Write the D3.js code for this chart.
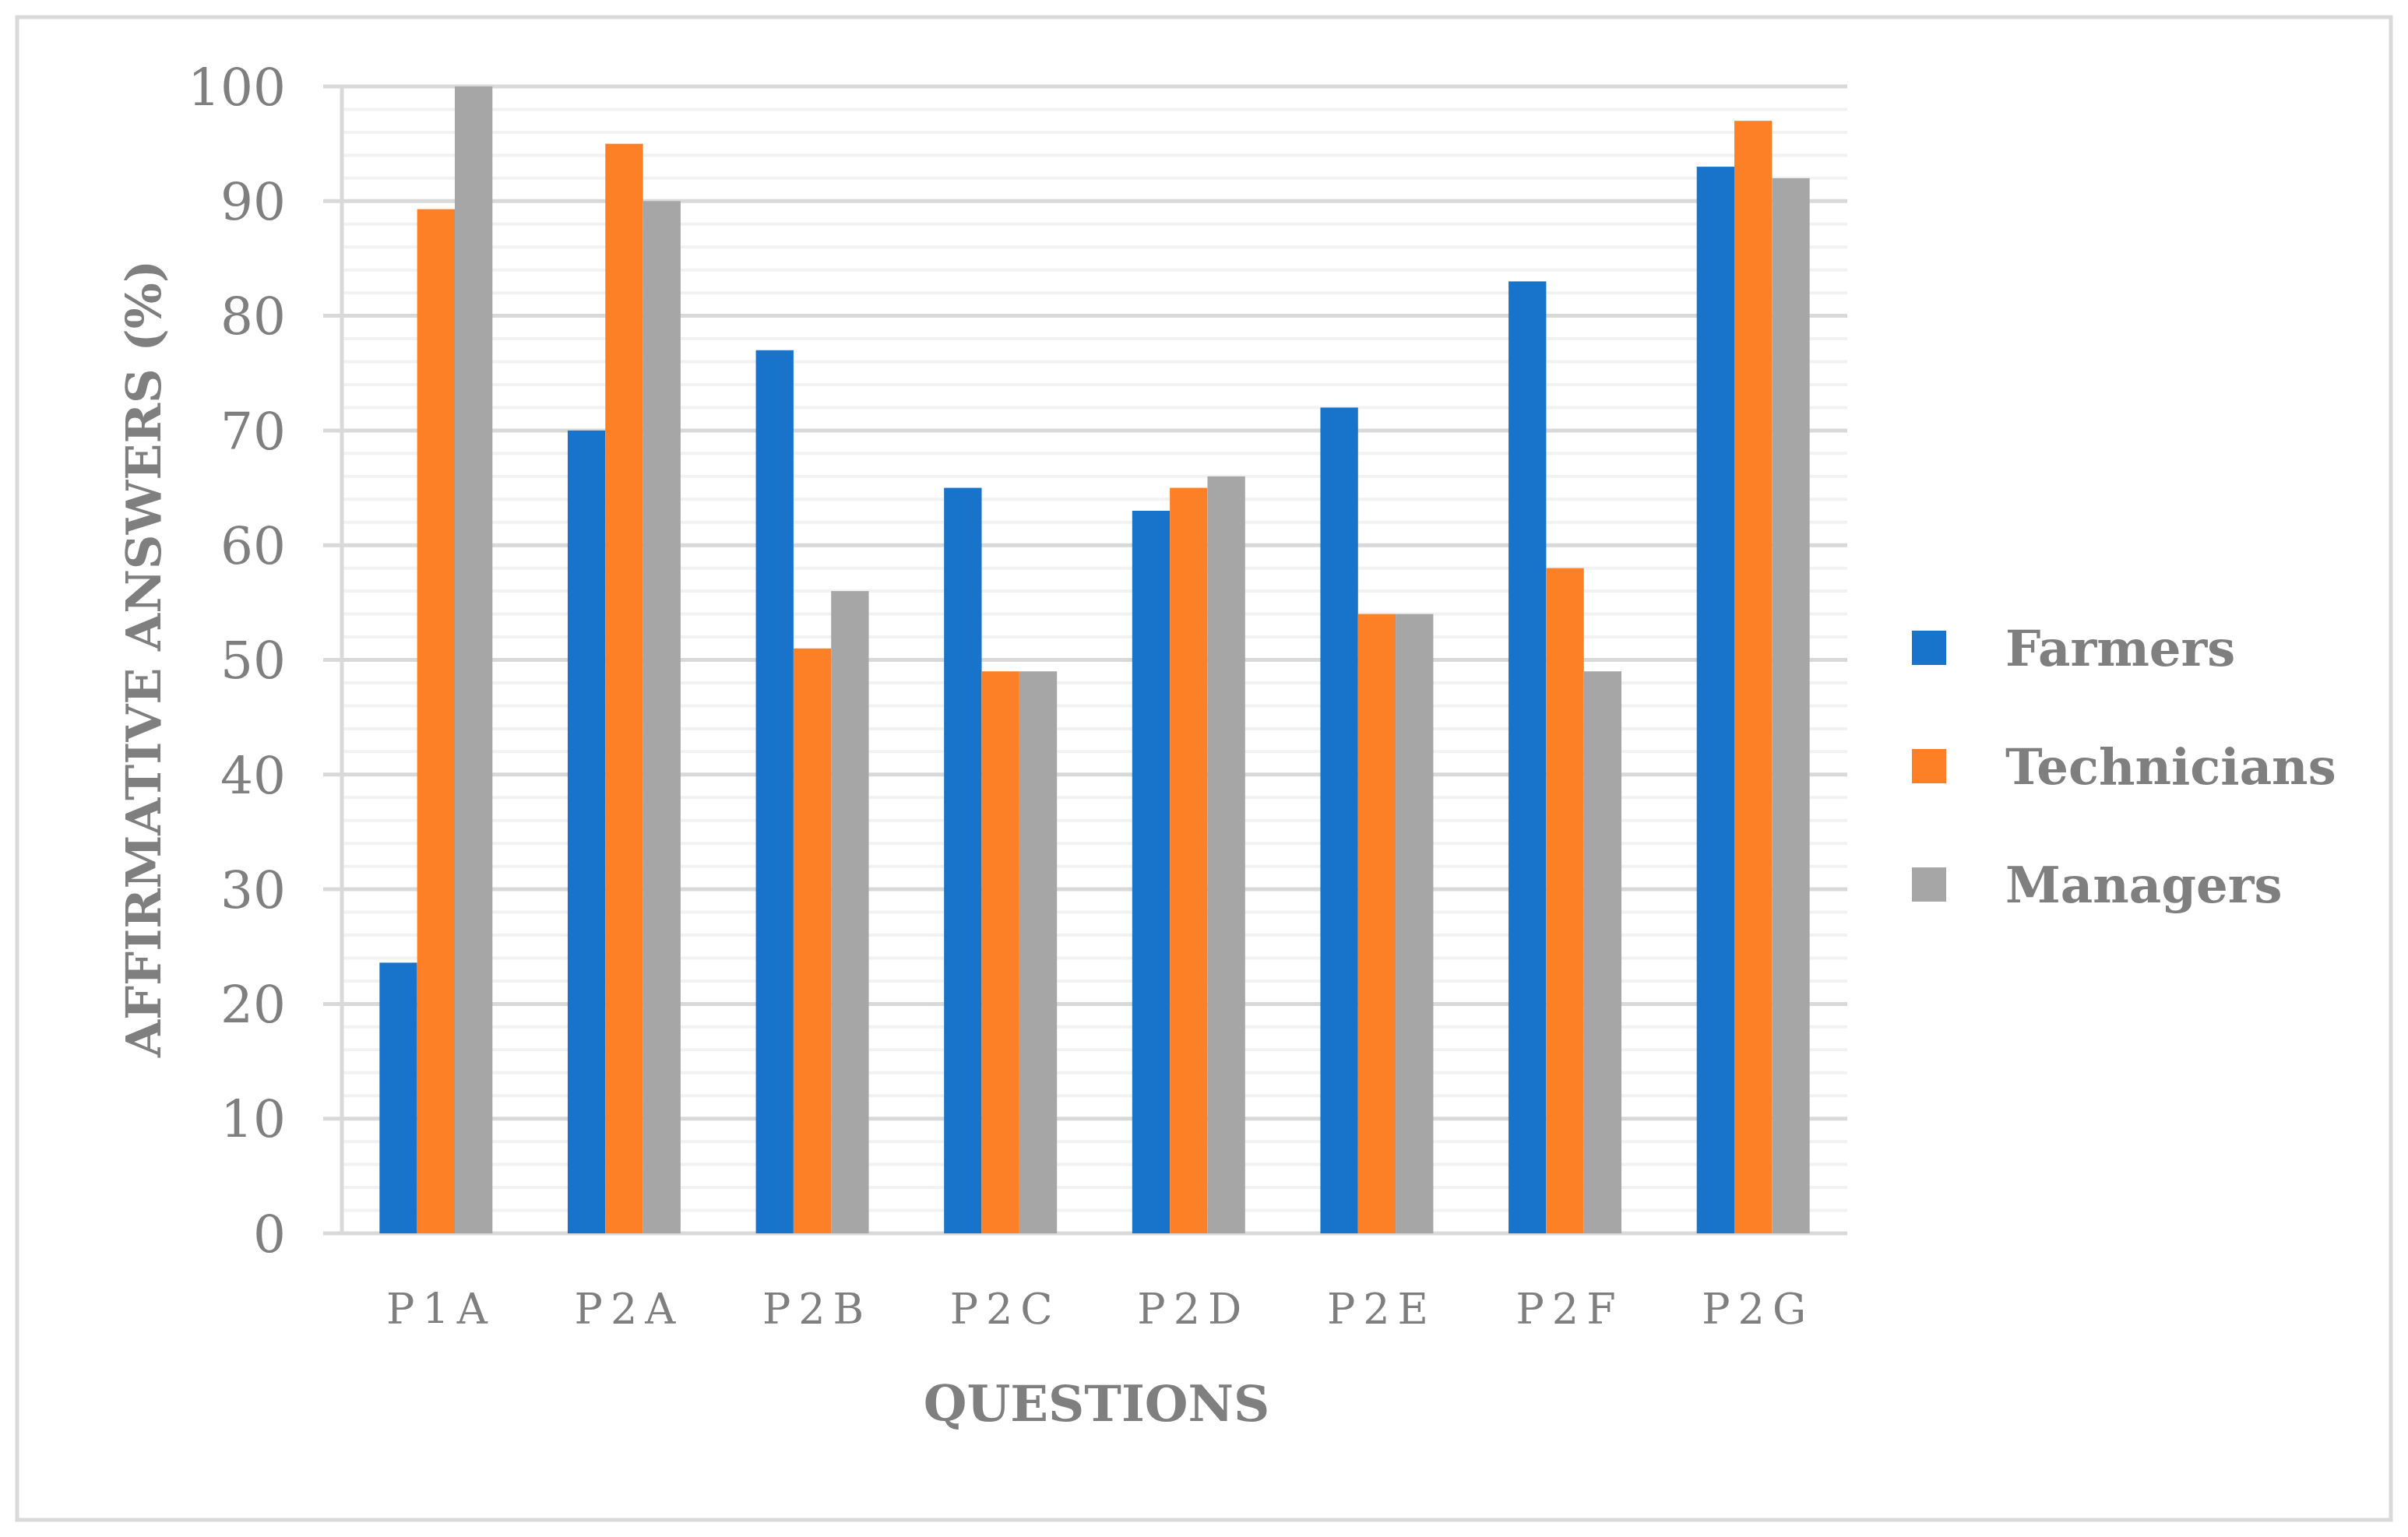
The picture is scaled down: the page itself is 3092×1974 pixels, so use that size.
<!DOCTYPE html>
<html>
<head>
<script src="https://d3js.org/d3.v7.min.js"></script>
<style>
  body { margin: 0; background: #fff; }
  text { font-family: "DejaVu Serif", "Liberation Serif", serif; fill: #7f7f7f; }
</style>
</head>
<body>
<svg id="canvas" width="3092" height="1974"></svg>
<script>
  const categories = ["P1A", "P2A", "P2B", "P2C", "P2D", "P2E", "P2F", "P2G"];
  const seriesNames = ["Farmers", "Technicians", "Managers"];
  const farmers = [23.6, 70, 77, 65, 63, 72, 83, 93];
  const technicians = [89.3, 95, 51, 49, 65, 54, 58, 97];
  const managers = [100, 90, 56, 49, 66, 54, 49, 92];
  const yTicks = [0, 10, 20, 30, 40, 50, 60, 70, 80, 90, 100];
  const colors = ["#1873cb", "#fd7f26", "#a6a6a6"];
  const series = [farmers, technicians, managers];

  const svg = d3.select("svg");
  const m = { left: 439, right: 2372, top: 111, bottom: 1584 };

  // outer border
  svg.append("rect").attr("x", 22).attr("y", 22).attr("width", 3048).attr("height", 1930)
    .attr("fill", "none").attr("stroke", "#d9d9d9").attr("stroke-width", 5);

  const x = d3.scaleBand().domain(categories).range([m.left, m.right]);
  const xi = d3.scaleBand().domain(seriesNames).range([0, x.bandwidth()]).paddingOuter(1).paddingInner(0);
  const y = d3.scaleLinear().domain([0, 100]).range([m.bottom, m.top]);

  // minor gridlines
  svg.append("g").selectAll("line").data(d3.range(2, 100, 2).filter(v => v % 10))
    .join("line")
    .attr("x1", m.left).attr("x2", m.right)
    .attr("y1", d => y(d)).attr("y2", d => y(d))
    .attr("stroke", "#f2f2f2").attr("stroke-width", 4);

  // major gridlines + ticks
  svg.append("g").selectAll("line").data(yTicks)
    .join("line")
    .attr("x1", m.left - 24).attr("x2", m.right)
    .attr("y1", d => y(d)).attr("y2", d => y(d))
    .attr("stroke", "#d9d9d9").attr("stroke-width", 5);

  svg.append("line").attr("x1", m.left).attr("x2", m.left)
    .attr("y1", y(100)).attr("y2", y(0))
    .attr("stroke", "#d9d9d9").attr("stroke-width", 5);

  // bars
  seriesNames.forEach((name, si) => {
    svg.append("g").selectAll("rect").data(series[si])
      .join("rect")
      .attr("x", (d, i) => x(categories[i]) + xi(name))
      .attr("width", xi.bandwidth())
      .attr("y", d => y(d))
      .attr("height", d => y(0) - y(d))
      .attr("fill", colors[si]);
  });

  // y tick labels
  svg.append("g").selectAll("text").data(yTicks)
    .join("text")
    .attr("x", m.left - 72).attr("y", d => y(d))
    .attr("dy", "0.36em")
    .attr("text-anchor", "end")
    .attr("font-size", 66)
    .text(d => d);

  // x tick labels
  svg.append("g").selectAll("text").data(categories)
    .join("text")
    .attr("x", d => x(d) + x.bandwidth() / 2 + 6).attr("y", 1700)
    .attr("text-anchor", "middle")
    .attr("font-size", 54)
    .attr("letter-spacing", 10)
    .text(d => d);

  // axis titles
  svg.append("text").attr("x", 1408).attr("y", 1825)
    .attr("text-anchor", "middle").attr("font-size", 64).attr("font-weight", "bold")
    .text("QUESTIONS");
  svg.append("text").attr("transform", "translate(206,846) rotate(-90)")
    .attr("text-anchor", "middle").attr("font-size", 62).attr("font-weight", "bold")
    .text("AFFIRMATIVE ANSWERS (%)");

  // legend
  const lg = svg.append("g").selectAll("g").data(seriesNames).join("g")
    .attr("transform", (d, i) => `translate(2455,${832 + i * 152})`);
  lg.append("rect").attr("x", 0).attr("y", -22).attr("width", 44).attr("height", 44)
    .attr("fill", (d, i) => colors[i]);
  lg.append("text").attr("x", 120).attr("y", 0).attr("dy", "0.36em")
    .attr("font-size", 64).attr("font-weight", "bold").text(d => d);
</script>
</body>
</html>
